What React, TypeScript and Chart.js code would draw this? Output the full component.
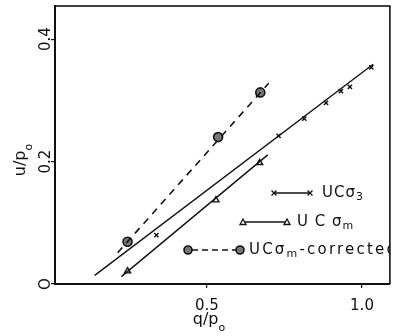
import React, { useEffect, useRef } from 'react';
import { Chart, registerables } from 'chart.js';

Chart.register(...registerables);

// UC sigma3 (crosses) + fitted line
const crossX = [0.337, 0.731, 0.814, 0.884, 0.932, 0.961, 1.030];
const crossY = [0.080, 0.242, 0.270, 0.296, 0.315, 0.322, 0.354];
const crossFitX = [0.138, 1.036];
const crossFitY = [0.014, 0.359];
// UC sigma_m (triangles) + fitted line
const triX = [0.244, 0.529, 0.670];
const triY = [0.021, 0.137, 0.198];
const triFitX = [0.224, 0.696];
const triFitY = [0.012, 0.211];
// UC sigma_m corrected (circles) + dashed fitted line
const circX = [0.244, 0.536, 0.672];
const circY = [0.069, 0.240, 0.313];
const circFitX = [0.212, 0.699];
const circFitY = [0.051, 0.328];

const xTicks = [0.5, 1.0];
const xTickLabels = ['0.5', '1.0'];
const yTicks = [0, 0.2, 0.4];
const yTickLabels = ['O', '0.2', '0.4'];

const FONT = '"DejaVu Sans"';

type Part = { t: string; size: number; dy?: number };

function richWidth(ctx: CanvasRenderingContext2D, parts: Part[], spacing: number) {
  let w = 0;
  for (const p of parts) {
    ctx.font = `${p.size}px ${FONT}`;
    (ctx as any).letterSpacing = spacing + 'px';
    w += ctx.measureText(p.t).width;
  }
  return w;
}

function drawRich(ctx: CanvasRenderingContext2D, parts: Part[], x: number, y: number, spacing: number) {
  let cx = x;
  for (const p of parts) {
    ctx.font = `${p.size}px ${FONT}`;
    (ctx as any).letterSpacing = spacing + 'px';
    ctx.fillText(p.t, cx, y + (p.dy || 0));
    cx += ctx.measureText(p.t).width;
  }
  (ctx as any).letterSpacing = '0px';
}

function pts(xs: number[], ys: number[]) {
  return xs.map((x, i) => ({ x, y: ys[i] }));
}

const decorPlugin = {
  id: 'decor',
  afterDraw(chart: any) {
    const ctx: CanvasRenderingContext2D = chart.ctx;
    const a = chart.chartArea;
    ctx.save();
    // top and right frame
    ctx.strokeStyle = '#000';
    ctx.lineWidth = 1.5;
    ctx.beginPath();
    ctx.moveTo(a.left, a.top);
    ctx.lineTo(a.right, a.top);
    ctx.lineTo(a.right, a.bottom);
    ctx.stroke();

    // legend
    ctx.fillStyle = '#111';
    ctx.strokeStyle = '#111';
    ctx.textBaseline = 'middle';
    ctx.textAlign = 'left';
    const r1 = a.bottom - 91;
    const r2 = a.bottom - 62;
    const r3 = a.bottom - 34;
    ctx.lineWidth = 1.3;
    // row 1: line with x marks
    ctx.beginPath();
    ctx.moveTo(273, r1);
    ctx.lineTo(311, r1);
    ctx.stroke();
    for (const px of [274, 310]) {
      ctx.beginPath();
      ctx.moveTo(px - 2.5, r1 - 2.5);
      ctx.lineTo(px + 2.5, r1 + 2.5);
      ctx.moveTo(px - 2.5, r1 + 2.5);
      ctx.lineTo(px + 2.5, r1 - 2.5);
      ctx.stroke();
    }
    // row 2: line with triangles
    ctx.beginPath();
    ctx.moveTo(243, r2);
    ctx.lineTo(287, r2);
    ctx.stroke();
    for (const px of [243, 287]) {
      ctx.beginPath();
      ctx.moveTo(px, r2 - 3);
      ctx.lineTo(px + 3, r2 + 2.5);
      ctx.lineTo(px - 3, r2 + 2.5);
      ctx.closePath();
      ctx.fillStyle = '#fff';
      ctx.fill();
      ctx.stroke();
    }
    // row 3: dashed line with circles
    ctx.setLineDash([6, 4]);
    ctx.beginPath();
    ctx.moveTo(192, r3);
    ctx.lineTo(237, r3);
    ctx.stroke();
    ctx.setLineDash([]);
    for (const px of [188, 240]) {
      ctx.beginPath();
      ctx.arc(px, r3, 4, 0, Math.PI * 2);
      ctx.fillStyle = '#777';
      ctx.fill();
      ctx.lineWidth = 1.6;
      ctx.stroke();
    }
    ctx.fillStyle = '#111';
    ctx.save();
    ctx.beginPath();
    ctx.rect(a.left, a.top, a.right - a.left, a.bottom - a.top);
    ctx.clip();
    drawRich(ctx, [{ t: 'UC', size: 15 }, { t: 'σ', size: 15 }, { t: '3', size: 11, dy: 4 }], 322, r1, 1);
    drawRich(ctx, [{ t: 'U C ', size: 15 }, { t: 'σ', size: 15 }, { t: 'm', size: 11, dy: 4 }], 297, r2, 1);
    drawRich(ctx, [{ t: 'UC', size: 15 }, { t: 'σ', size: 15 }, { t: 'm', size: 11, dy: 4 }, { t: '-corrected', size: 15 }], 249, r3, 2.2);
    ctx.restore();

    // axis titles
    ctx.fillStyle = '#111';
    const xt: Part[] = [{ t: 'q/p', size: 16 }, { t: 'o', size: 11, dy: 8 }];
    const xw = richWidth(ctx, xt, 0);
    drawRich(ctx, xt, 209 - xw / 2, 320, 0);
    const yt: Part[] = [{ t: 'u/p', size: 16 }, { t: 'o', size: 11, dy: 8 }];
    const yw = richWidth(ctx, yt, 0);
    ctx.translate(21, 160);
    ctx.rotate(-Math.PI / 2);
    drawRich(ctx, yt, -yw / 2, 0, 0);
    ctx.restore();
  },
};

export default function App() {
  const ref = useRef<HTMLCanvasElement | null>(null);
  useEffect(() => {
    if (!ref.current) return;
    const chart = new Chart(ref.current, {
      type: 'scatter',
      data: {
        datasets: [
          {
            label: 'UC σ3 fit',
            type: 'line',
            data: pts(crossFitX, crossFitY),
            borderColor: '#111',
            borderWidth: 1.4,
            pointRadius: 0,
            fill: false,
          } as any,
          {
            label: 'UC σ3',
            data: pts(crossX, crossY),
            pointStyle: 'crossRot',
            pointRadius: 3,
            borderColor: '#111',
            borderWidth: 1.4,
            showLine: false,
          },
          {
            label: 'UC σm fit',
            type: 'line',
            data: pts(triFitX, triFitY),
            borderColor: '#111',
            borderWidth: 1.4,
            pointRadius: 0,
            fill: false,
          } as any,
          {
            label: 'UC σm',
            data: pts(triX, triY),
            pointStyle: 'triangle',
            pointRadius: 3.5,
            borderColor: '#111',
            backgroundColor: '#fff',
            borderWidth: 1.4,
            showLine: false,
          },
          {
            label: 'UC σm-corrected fit',
            type: 'line',
            data: pts(circFitX, circFitY),
            borderColor: '#111',
            borderWidth: 1.6,
            borderDash: [7, 6],
            pointRadius: 0,
            fill: false,
          } as any,
          {
            label: 'UC σm-corrected',
            data: pts(circX, circY),
            pointStyle: 'circle',
            pointRadius: 4.5,
            borderColor: '#111',
            backgroundColor: '#777',
            borderWidth: 1.6,
            showLine: false,
          },
        ],
      },
      options: {
        responsive: false,
        animation: false,
        layout: { padding: { top: 5, right: 4, left: 0, bottom: 0 } },
        plugins: { legend: { display: false }, tooltip: { enabled: false } },
        scales: {
          x: {
            type: 'linear',
            min: 0.01,
            max: 1.09,
            afterBuildTicks: (s: any) => {
              s.ticks = xTicks.map((v) => ({ value: v }));
            },
            afterFit: (s: any) => {
              s.height = 52;
            },
            grid: { drawOnChartArea: false, drawTicks: true, tickLength: 4, color: '#111', lineWidth: 1.2 },
            border: { display: true, color: '#111', width: 2 },
            ticks: {
              color: '#111',
              font: { family: 'DejaVu Sans', size: 15 },
              padding: 9,
              maxRotation: 0,
              autoSkip: false,
              callback: (v: any) => xTickLabels[xTicks.indexOf(Number(v))] ?? '',
            },
          },
          y: {
            type: 'linear',
            min: 0,
            max: 0.454,
            afterBuildTicks: (s: any) => {
              s.ticks = yTicks.map((v) => ({ value: v }));
            },
            afterFit: (s: any) => {
              s.width = 55;
            },
            grid: { drawOnChartArea: false, drawTicks: true, tickLength: 4, color: '#111', lineWidth: 1.2 },
            border: { display: true, color: '#111', width: 2 },
            ticks: {
              color: '#111',
              font: { family: 'DejaVu Sans', size: 15 },
              padding: -7,
              minRotation: 90,
              maxRotation: 90,
              crossAlign: 'center',
              autoSkip: false,
              callback: (v: any) => yTickLabels[yTicks.indexOf(Number(v))] ?? '',
            },
          },
        },
      },
      plugins: [decorPlugin],
    } as any);
    return () => chart.destroy();
  }, []);
  return (
    <div style={{ position: 'fixed', left: 0, top: 0, width: 396, height: 336, background: '#fff' }}>
      <canvas ref={ref} width={396} height={336} />
    </div>
  );
}
